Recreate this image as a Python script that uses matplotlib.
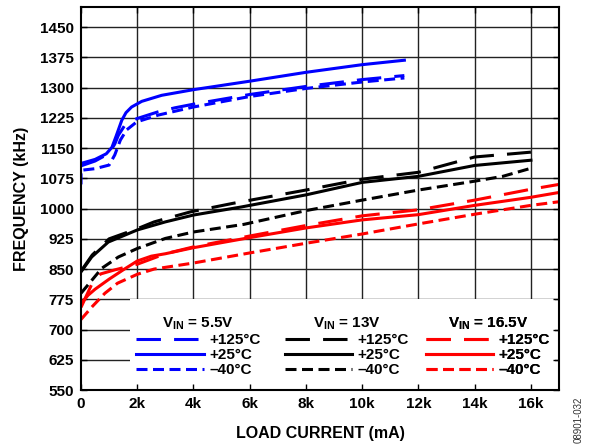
import numpy as np
import matplotlib
matplotlib.use('Agg')
import matplotlib.pyplot as plt
from matplotlib.patches import Rectangle
from matplotlib.lines import Line2D

plt.rcParams['font.family'] = ['Liberation Sans', 'DejaVu Sans']
plt.rcParams['font.weight'] = 'bold'
plt.rcParams['mathtext.fontset'] = 'custom'
plt.rcParams['mathtext.bf'] = 'Liberation Sans:bold'
plt.rcParams['mathtext.rm'] = 'Liberation Sans:bold'

# load current (mA) / frequency (kHz)
# VIN = 5.5V (blue)
b125_x = [0, 500, 1000, 1200, 1330, 1560, 1980, 2740, 3340, 4000, 6000, 8000, 10000, 11500]
b125_y = [1106, 1118, 1137, 1160, 1182, 1207, 1223, 1240, 1250, 1259, 1283, 1303, 1320, 1330]
b25_x = [0, 500, 900, 1100, 1250, 1450, 1600, 1800, 2160, 2870, 4000, 6000, 8000, 10000, 11500]
b25_y = [1112, 1122, 1136, 1152, 1180, 1219, 1238, 1252, 1266, 1281, 1295, 1316, 1338, 1357, 1368]
bm40_x = [0, 0, 500, 1000, 1200, 1400, 1620, 1980, 2750, 4000, 6000, 8000, 10000, 11500]
bm40_y = [1060, 1095, 1099, 1108, 1133, 1170, 1195, 1215, 1232, 1252, 1278, 1298, 1314, 1324]

# VIN = 13V (black)
k125_x = [0, 400, 1000, 2000, 2600, 3900, 5400, 8000, 10000, 12000, 14000, 16000]
k125_y = [845, 885, 925, 950, 967, 992, 1013, 1046, 1073, 1090, 1128, 1140]
k25_x = [0, 380, 970, 2000, 3000, 4000, 5700, 8000, 10000, 12000, 14000, 16000]
k25_y = [843, 880, 917, 947, 967, 984, 1004, 1034, 1065, 1080, 1107, 1120]
km40_x = [0, 740, 1330, 2000, 3000, 4000, 5800, 8000, 10000, 12000, 14000, 15000, 16000]
km40_y = [790, 852, 880, 901, 926, 942, 961, 995, 1021, 1046, 1068, 1080, 1100]

# VIN = 16.5V (red)
r125_x = [0, 400, 700, 1200, 2000, 3000, 4000, 6000, 8000, 10000, 12000, 14000, 16000, 17000]
r125_y = [755, 815, 838, 848, 862, 888, 905, 932, 958, 982, 997, 1021, 1048, 1060]
r25_x = [0, 250, 500, 1000, 1500, 2000, 2500, 3000, 4000, 6000, 8000, 10000, 12000, 14000, 16000, 17000]
r25_y = [765, 785, 800, 825, 848, 870, 882, 888, 903, 928, 952, 972, 985, 1008, 1028, 1040]
rm40_x = [0, 400, 850, 1300, 2000, 2600, 4000, 6000, 8000, 10000, 12000, 14000, 16000, 17000]
rm40_y = [725, 757, 790, 815, 837, 850, 865, 890, 914, 937, 962, 986, 1008, 1017]

x_ticks = [0, 2000, 4000, 6000, 8000, 10000, 12000, 14000, 16000]
x_tick_labels = ['0', '2k', '4k', '6k', '8k', '10k', '12k', '14k', '16k']
y_ticks = [550, 625, 700, 775, 850, 925, 1000, 1075, 1150, 1225, 1300, 1375, 1450]

LONG = (8, 4.3)
SHORT = (3.6, 1.8)
LW = 2.2

fig = plt.figure(figsize=(5.9, 4.44), dpi=100)
ax = fig.add_axes([0.1373, 0.1216, 0.8102, 0.8626])

groups = [
    ('blue', r'$\mathbf{V_{IN}}$ = 5.5V', (b125_x, b125_y), (b25_x, b25_y), (bm40_x, bm40_y)),
    ('black', r'$\mathbf{V_{IN}}$ = 13V', (k125_x, k125_y), (k25_x, k25_y), (km40_x, km40_y)),
    ('red', r'$\mathbf{V_{IN}}$ = 16.5V', (r125_x, r125_y), (r25_x, r25_y), (rm40_x, rm40_y)),
]

for color, title, hot, room, cold in groups:
    ax.plot(hot[0], hot[1], color=color, lw=LW, dashes=LONG, zorder=2)
    ax.plot(room[0], room[1], color=color, lw=LW, zorder=2)
    ax.plot(cold[0], cold[1], color=color, lw=LW, dashes=SHORT, zorder=2)

ax.set_xlim(0, 17000)
ax.set_ylim(550, 1500)
ax.set_xticks(x_ticks)
ax.set_xticklabels(x_tick_labels)
ax.set_yticks(y_ticks)
ax.tick_params(direction='in', length=4, width=1, labelsize=11, pad=5,
               top=True, right=True)

for t in x_ticks[1:]:
    ax.axvline(t, color='#222222', lw=1, zorder=0.8)
for t in y_ticks[1:]:
    ax.axhline(t, color='#222222', lw=1, zorder=0.8)

for s in ax.spines.values():
    s.set_linewidth(1.5)

# white box behind the legend
ax.add_patch(Rectangle((0.1025, 0), 0.8885, 0.2376, transform=ax.transAxes,
                       facecolor='white', edgecolor='none', zorder=1))

anchors = [0.100, 0.410, 0.706]
for (color, title, hot, room, cold), xa in zip(groups, anchors):
    handles = [Line2D([], [], color=color, lw=LW, dashes=LONG),
               Line2D([], [], color=color, lw=LW),
               Line2D([], [], color=color, lw=LW, dashes=SHORT)]
    leg = ax.legend(handles, ['+125°C', '+25°C', '\u201340°C'], title=title,
                    loc='upper left', bbox_to_anchor=(xa, 0.214),
                    frameon=False, fontsize=11, title_fontsize=11,
                    handlelength=4.4, handletextpad=0.35, labelspacing=0.07,
                    borderpad=0.5, borderaxespad=0)
    leg.get_title().set_fontweight('bold')
    leg.set_zorder(3)
    ax.add_artist(leg)

ax.set_xlabel('LOAD CURRENT (mA)', fontsize=11.5, fontweight='bold', labelpad=11)
ax.set_ylabel('FREQUENCY (kHz)', fontsize=11.5, fontweight='bold', labelpad=8)

fig.text(0.98, 0.106, '08901-032', rotation=90, ha='center', va='top',
         fontsize=7, fontweight='normal', color='#333333')

fig.savefig('out.png', dpi=100)
